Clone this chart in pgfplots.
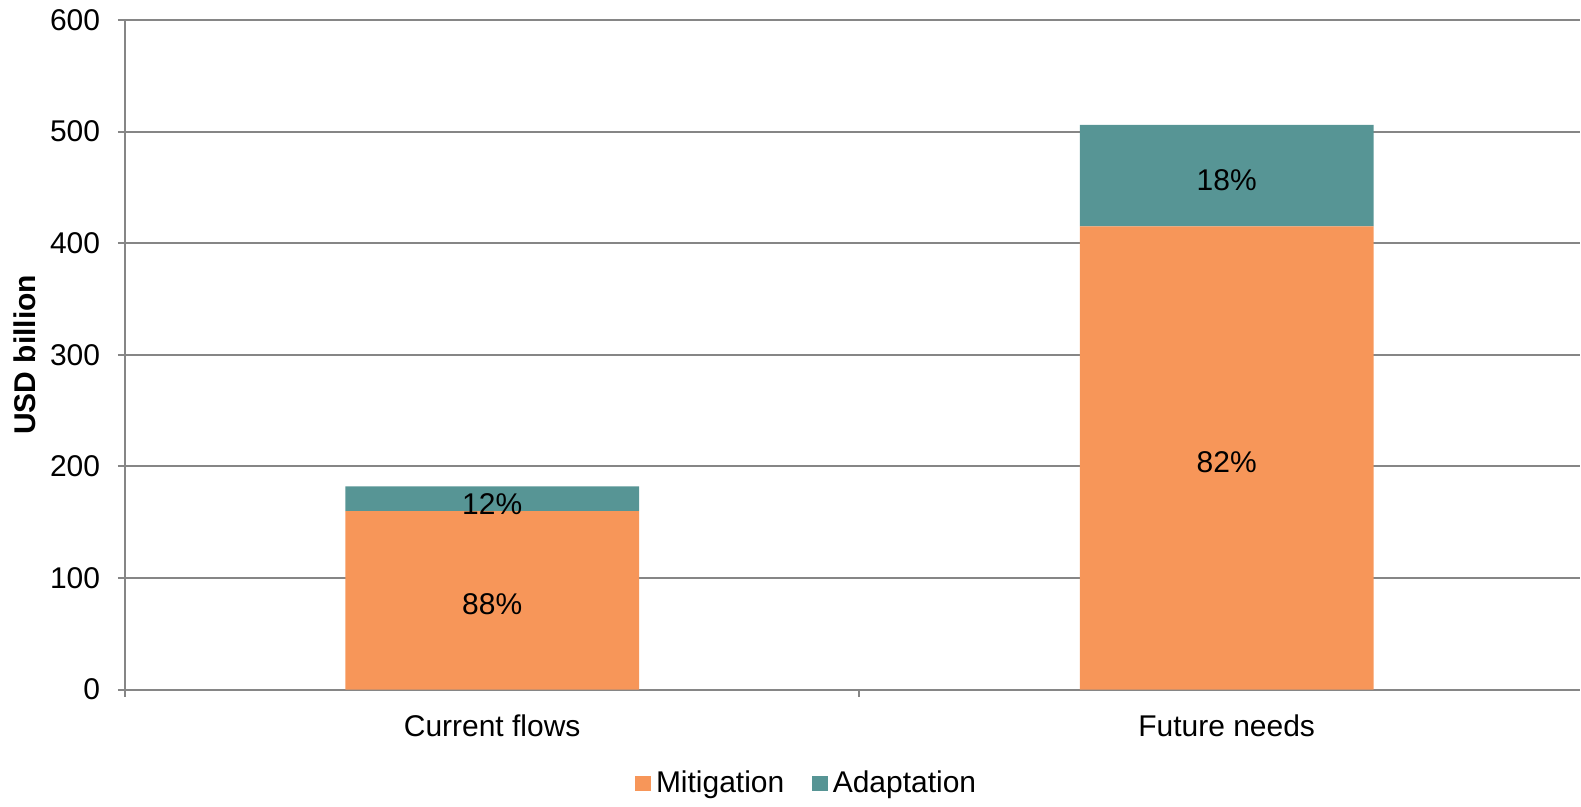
\documentclass[border=0pt]{standalone}
\usepackage{fontspec}
\setmainfont{Liberation Sans}
\usepackage{pgfplots}
\pgfplotsset{compat=1.18}
\definecolor{mitig}{HTML}{F79659}
\definecolor{adapt}{HTML}{579595}
\definecolor{gridgray}{HTML}{868686}
\begin{document}
\begin{tikzpicture}[font=\fontsize{12}{14}\selectfont]
\begin{axis}[
  at={(0,0)}, anchor=south west,
  scale only axis, width=582.4pt, height=268pt,
  ybar stacked, bar width=0.4,
  xmin=-0.5, xmax=1.481, ymin=0, ymax=600,
  xtick={-0.5,0.5,1.5}, xticklabels={,,},
  extra x ticks={0,1},
  extra x tick labels={Current flows,Future needs},
  extra x tick style={major tick length=0pt, xticklabel style={yshift=-6.5pt}},
  ytick={0,100,...,600},
  axis x line*=bottom, axis y line*=left,
  axis line style={gridgray, line width=0.8pt, -},
  tick align=outside, major tick length=2.8pt,
  tick style={gridgray, line width=0.8pt},
  ymajorgrids, grid style={gridgray, line width=0.8pt},
  /pgf/number format/assume math mode=true,
  yticklabel style={xshift=-3.6pt},
  ylabel={\bfseries USD billion},
  ylabel style={at={(axis description cs:-0.0687,0.5)}, anchor=center, rotate=0},
  clip=false,
  legend columns=2,
  legend style={at={(0.4695,-0.14)}, anchor=center, draw=none, fill=none,
    /tikz/every even column/.append style={column sep=9pt}},
  legend image code/.code={\fill[#1] (0pt,-3pt) rectangle (6.4pt,3pt);},
]
\addplot[fill=mitig, draw=none] coordinates {(0,160) (1,415)};
\addplot[fill=adapt, draw=none] coordinates {(0,22) (1,91)};
\legend{Mitigation,Adaptation}
\coordinate (l1) at (axis cs:0,80);
\coordinate (l2) at (axis cs:0,170);
\coordinate (l3) at (axis cs:1,207);
\coordinate (l4) at (axis cs:1,460);
\end{axis}
\node[yshift=-1.6pt] at (l1) {88\%};
\node[yshift=-1.6pt] at (l2) {12\%};
\node[yshift=-1.6pt] at (l3) {82\%};
\node[yshift=-1.6pt] at (l4) {18\%};
\path[use as bounding box] (-50pt,-43.6pt) rectangle (582.4pt,276pt);
\end{tikzpicture}
\end{document}
